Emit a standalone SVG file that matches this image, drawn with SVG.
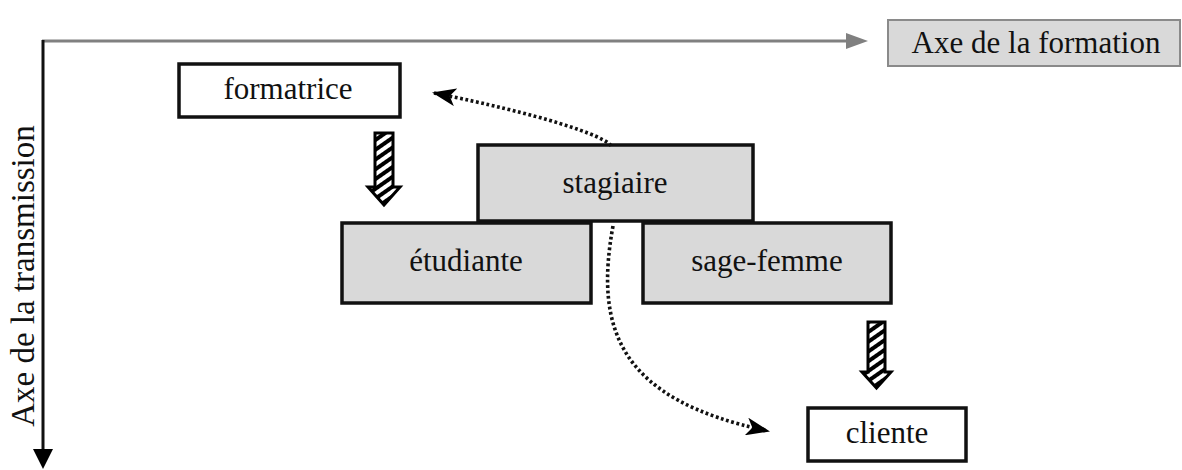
<svg xmlns="http://www.w3.org/2000/svg" width="1182" height="470" viewBox="0 0 1182 470" font-family="'Liberation Serif', 'DejaVu Serif', serif">
<defs>
<style>
.box{stroke:#111;stroke-width:3.5}
.grey{fill:#d9d9d9}
.white{fill:#fff}
.t{font-family:'Liberation Serif','DejaVu Serif',serif;font-size:31px;fill:#111;text-anchor:middle}
.dot{fill:none;stroke:#111;stroke-width:3.6;stroke-dasharray:2.8 2.6}
.hatch{fill:url(#stripes);stroke:#000;stroke-width:3;stroke-linejoin:miter}
</style>
<pattern id="stripes" patternUnits="userSpaceOnUse" width="8" height="8" patternTransform="rotate(-35)">
<rect width="8" height="8" fill="#fff"/>
<rect width="8" height="4" fill="#000"/>
</pattern>
<marker id="stealth" viewBox="0 0 24 18" refX="22" refY="9" markerWidth="24" markerHeight="18" markerUnits="userSpaceOnUse" orient="auto">
<path d="M0,0 L24,9 L0,18 L6,9 Z" fill="#000"/>
</marker>
</defs>
<g id="axes">
<line x1="42" y1="41" x2="848" y2="41" stroke="#808080" stroke-width="3"/>
<polygon points="846,33 868,41 846,49" fill="#808080"/>
<line x1="43" y1="40" x2="43" y2="452" stroke="#111" stroke-width="3"/>
<polygon points="33,449 53,449 43,469" fill="#000"/>
<text class="t" transform="translate(34,276) rotate(-90)" style="font-size:33px">Axe de la transmission</text>
</g>
<g id="axe-formation">
<rect x="888" y="20" width="292" height="46" fill="#d9d9d9" stroke="#8a8a8a" stroke-width="2"/>
<text class="t" x="1036" y="53">Axe de la formation</text>
</g>
<g id="formatrice">
<rect class="box white" x="179" y="64" width="221" height="53"/>
<text class="t" x="288" y="99">formatrice</text>
</g>
<g id="stagiaire">
<rect class="box grey" x="478" y="145" width="275" height="76"/>
<text class="t" x="615" y="193">stagiaire</text>
</g>
<g id="etudiante">
<rect class="box grey" x="342" y="223" width="249" height="80"/>
<text class="t" x="466" y="271">étudiante</text>
</g>
<g id="sage-femme">
<rect class="box grey" x="643" y="223" width="248" height="80"/>
<text class="t" x="767" y="271">sage-femme</text>
</g>
<g id="cliente">
<rect class="box white" x="808" y="408" width="158" height="53"/>
<text class="t" x="887" y="443">cliente</text>
</g>
<g id="connectors">
<path class="hatch" d="M375,133 H393 V187 H400 L384,205 L368,187 H375 Z"/>
<path class="hatch" d="M868,322 H885 V372 H891 L876.5,388 L862,372 H868 Z"/>
<path class="dot" d="M611,146 C606,136 540,114 434,93" marker-end="url(#stealth)"/>
<path class="dot" d="M613,226 C594,330 620,400 768,431" marker-end="url(#stealth)"/>
</g>
</svg>
